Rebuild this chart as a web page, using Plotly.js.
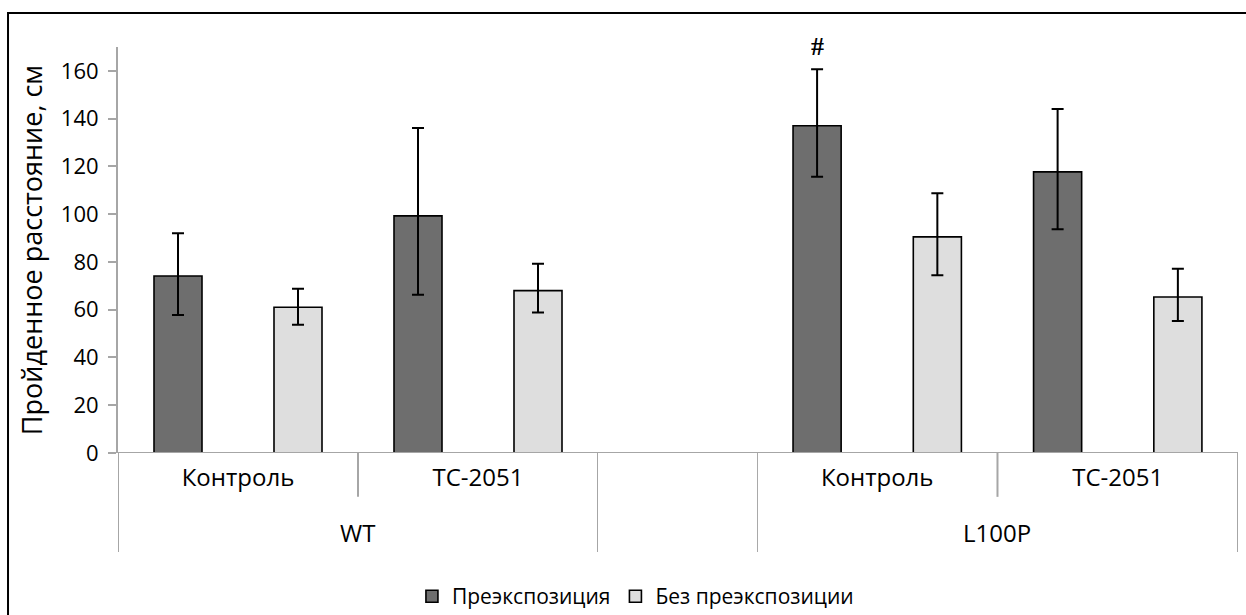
<!DOCTYPE html>
<html>
<head>
<meta charset="utf-8">
<script src="https://cdn.plot.ly/plotly-3.0.1.min.js"></script>
<style>html,body{margin:0;padding:0;background:#fff;overflow:hidden;}#chart{width:1246px;height:615px;}</style>
</head>
<body>
<div id="chart"></div>
<script>
// ---- data ----
const seriesNames = ['Преэкспозиция', 'Без преэкспозиции'];
const groupNames = ['WT', 'L100P'];
const subCategories = ['Контроль', 'TC-2051'];

const wtPre = [74.1, 99.3];
const wtPreErrPlus = [17.9, 36.8];
const wtPreErrMinus = [16.3, 33.0];
const wtNoPre = [61.0, 68.0];
const wtNoPreErrPlus = [7.8, 11.2];
const wtNoPreErrMinus = [7.3, 9.2];

const l100pPre = [137.0, 117.7];
const l100pPreErrPlus = [23.7, 26.3];
const l100pPreErrMinus = [21.3, 24.0];
const l100pNoPre = [90.5, 65.3];
const l100pNoPreErrPlus = [18.3, 11.9];
const l100pNoPreErrMinus = [16.1, 10.0];

const yTickVals = [0, 20, 40, 60, 80, 100, 120, 140, 160];
const significanceMark = '#';

// ---- styles ----
const darkColor = '#6e6e6e';
const lightColor = '#dedede';
const axisGray = '#a6a6a6';
const FONT = 'Open Sans, sans-serif';

function barTrace(name, xa, vals, plus, minus, color, showlegend) {
  return {
    type: 'bar', name: name, legendgroup: name, showlegend: showlegend,
    x: subCategories, y: vals, xaxis: xa, yaxis: 'y',
    marker: {color: color, line: {color: '#000', width: 1.6}},
    error_y: {type: 'data', symmetric: false, array: plus, arrayminus: minus,
              color: '#000', thickness: 2, width: 6},
    hoverinfo: 'y'
  };
}

const traces = [
  barTrace(seriesNames[0], 'x', wtPre, wtPreErrPlus, wtPreErrMinus, darkColor, true),
  barTrace(seriesNames[1], 'x', wtNoPre, wtNoPreErrPlus, wtNoPreErrMinus, lightColor, true),
  barTrace(seriesNames[0], 'x2', l100pPre, l100pPreErrPlus, l100pPreErrMinus, darkColor, false),
  barTrace(seriesNames[1], 'x2', l100pNoPre, l100pNoPreErrPlus, l100pNoPreErrMinus, lightColor, false)
];

const shortDiv = -0.108, longDiv = -0.244;
const shapes = [];
// baseline across both groups
shapes.push({type: 'line', xref: 'paper', yref: 'y', x0: 0, x1: 1, y0: 0, y1: 0,
             line: {color: axisGray, width: 2}, layer: 'above'});
['x', 'x2'].forEach(function (xa) {
  [-0.5, subCategories.length - 0.5].forEach(function (b) {
    shapes.push({type: 'line', xref: xa, yref: 'paper', x0: b, x1: b, y0: 0, y1: longDiv,
                 line: {color: axisGray, width: 2}});
  });
  for (let i = 0; i < subCategories.length - 1; i++) {
    shapes.push({type: 'line', xref: xa, yref: 'paper', x0: i + 0.5, x1: i + 0.5, y0: 0, y1: shortDiv,
                 line: {color: axisGray, width: 2}});
  }
});
// outer frame (top and left edges visible)
shapes.push({type: 'rect', xref: 'paper', yref: 'paper', x0: -0.0982, x1: 1.05, y0: -0.6, y1: 1.0837,
             line: {color: '#000', width: 2}, fillcolor: 'rgba(0,0,0,0)'});

const annotations = [
  {xref: 'x domain', yref: 'paper', x: 0.5, y: -0.197, text: groupNames[0], showarrow: false,
   font: {family: FONT, size: 24, color: '#000'}, yanchor: 'middle'},
  {xref: 'x2 domain', yref: 'paper', x: 0.5, y: -0.197, text: groupNames[1], showarrow: false,
   font: {family: FONT, size: 24, color: '#000'}, yanchor: 'middle'},
  {xref: 'x2', yref: 'y', x: -0.25, y: l100pPre[0] + l100pPreErrPlus[0], text: '<b>' + significanceMark + '</b>',
   showarrow: false, yanchor: 'bottom', yshift: 6,
   font: {family: 'Liberation Serif, serif', size: 26, color: '#000'}}
];

const xCommon = {
  type: 'category', range: [-0.5, 1.5], showline: false, ticks: '', showgrid: false,
  zeroline: false, fixedrange: true, ticklabelstandoff: 8,
  tickfont: {family: FONT, size: 24, color: '#000'}
};

const layout = {
  width: 1246, height: 615,
  margin: {l: 118, r: 8, t: 47, b: 162, autoexpand: false},
  paper_bgcolor: '#fff', plot_bgcolor: '#fff',
  barmode: 'group', bargap: 0, bargroupgap: 0.6,
  showlegend: true,
  legend: {orientation: 'h', x: 0.462, xanchor: 'center', yref: 'container', y: 0.03, yanchor: 'middle',
           itemwidth: 30, font: {family: FONT, size: 21, color: '#000'}, traceorder: 'normal'},
  xaxis: Object.assign({}, xCommon, {domain: [0, 0.42857], anchor: 'y'}),
  xaxis2: Object.assign({}, xCommon, {domain: [0.5705, 1], anchor: 'y'}),
  yaxis: {
    range: [0, 170], tickvals: yTickVals, showgrid: false, zeroline: false,
    showline: true, linecolor: axisGray, linewidth: 2,
    ticks: 'outside', ticklen: 8, tickcolor: axisGray, tickwidth: 2,
    ticklabelstandoff: 5,
    tickfont: {family: FONT, size: 22, color: '#000'},
    title: {text: 'Пройденное расстояние, см', font: {family: FONT, size: 27, color: '#000'}, standoff: 10},
    automargin: false, fixedrange: true
  },
  shapes: shapes,
  annotations: annotations
};

Plotly.newPlot('chart', traces, layout, {displayModeBar: false, staticPlot: true});
</script>
</body>
</html>
